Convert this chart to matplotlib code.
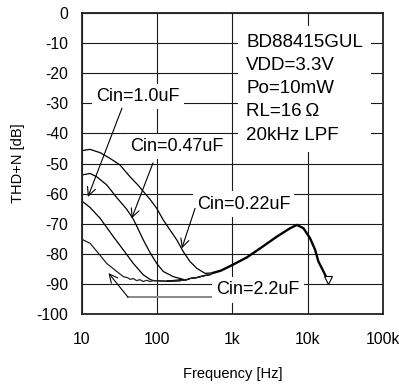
import numpy as np
import matplotlib
matplotlib.use("Agg")
import matplotlib.pyplot as plt

plt.rcParams['font.family'] = ['Liberation Sans', 'DejaVu Sans']
plt.rcParams['axes.unicode_minus'] = False

# --- data (frequency in Hz, THD+N in dB) ---
# Cin = 0.22uF (top curve), joins the shared tail directly
f_022 = [10, 12.8, 17.4, 23.6, 32, 43.5, 56.1, 65.3, 80.2, 98.4, 120.5, 148, 182, 222, 273, 335, 432]
db_022 = [-45.7, -45.3, -46.4, -48.3, -50.5, -54.4, -57.3, -59.3, -61.9, -64.9, -68.8, -72.1, -75.4, -79.3, -82.6, -84.8, -86.5]

# Cin = 0.47uF
f_047 = [10, 12.8, 15.7, 21.3, 28.9, 39.3, 48.1, 53.4, 65.3, 80.2, 98.4, 120.5, 164, 222]
db_047 = [-53.8, -53.3, -54.4, -57.1, -61.3, -65.2, -68.5, -70.8, -75.4, -79.6, -83.2, -85.9, -87.6, -88.5]

# Cin = 1.0uF
f_10 = [10, 12.8, 17.4, 26.1, 35.4, 48.1, 65.3, 80.2]
db_10 = [-62.5, -64.6, -68.2, -74.3, -78.7, -83.2, -87.0, -88.5]

# Cin = 2.2uF (noisy floor)
f_22 = [10, 12.8, 16.5, 21.3, 27.5, 35.4, 40, 44, 48.1, 53, 59, 65, 72.5, 80]
db_22 = [-75.2, -76.5, -79.8, -83.2, -85.4, -87.6, -87.9, -88.5, -88.2, -88.9, -88.6, -89.2, -88.8, -89.2]

# noise floor shared by 0.47 / 1.0 / 2.2uF
floor_f = [88.7, 109, 134, 164, 201, 247, 273, 335, 371, 432, 504]
floor_db = [-88.9, -89.0, -89.1, -89.0, -88.9, -88.6, -88.2, -87.9, -87.6, -87.2, -86.9]

# common high-frequency tail (all curves overlap)
tail_f = [557, 700, 997, 1549, 2328, 3881, 5834, 7165, 8770, 10760, 12540, 13870, 15410, 17030, 18500]
tail_db = [-86.3, -85.6, -83.7, -81.2, -78.2, -74.3, -71.5, -70.4, -71.5, -74.9, -78.7, -82.6, -84.8, -87.0, -88.7]

x_ticks = [10, 100, 1000, 10000, 100000]
x_labels = ["10", "100", "1k", "10k", "100k"]
y_ticks = list(range(0, -101, -10))
y_labels = [str(v) for v in y_ticks]

spec_text = "BD88415GUL\nVDD=3.3V\nPo=10mW\nRL=16\u2009\u03a9\n20kHz LPF"

fig = plt.figure(figsize=(3.99, 3.87), dpi=100)
ax = fig.add_axes([0.2055, 0.1886, 0.7544, 0.7778])

ax.set_xscale('log')
ax.set_xlim(10, 100000)
ax.set_ylim(-100, 0)
ax.set_xticks(x_ticks)
ax.set_xticklabels(x_labels)
ax.minorticks_off()
ax.set_yticks(y_ticks)
ax.set_yticklabels(y_labels)
ax.tick_params(length=0, labelsize=11.3)
ax.tick_params(axis='x', pad=13)
ax.tick_params(axis='y', pad=10)
ax.grid(True, color='#1a1a1a', lw=0.8)
ax.set_axisbelow(True)
for s in ax.spines.values():
    s.set_linewidth(1.3)
    s.set_color('#222222')

ax.set_xlabel("Frequency [Hz]", fontsize=10.5, labelpad=14)
ax.set_ylabel("THD+N [dB]", fontsize=10.5, labelpad=8)

# curves
lw = 0.9
ax.plot(f_022 + tail_f[:1], db_022 + tail_db[:1], color='black', lw=lw)
ax.plot(f_047 + floor_f[2:] + tail_f[:1], db_047 + floor_db[2:] + tail_db[:1], color='black', lw=lw)
ax.plot(f_10 + floor_f + tail_f[:1], db_10 + floor_db + tail_db[:1], color='black', lw=lw)
ax.plot(f_22 + floor_f + tail_f[:1], db_22 + floor_db + tail_db[:1], color='#222222', lw=lw)
ax.plot(tail_f, tail_db, color='black', lw=1.7)
ax.plot(tail_f[-1:], tail_db[-1:], marker='v', ms=6, mfc='white', mec='black', mew=0.8, ls='none')

# labels with white boxes that hide the grid
box = dict(facecolor='white', edgecolor='none', pad=3)
ax.text(1517, -7.0, spec_text, fontsize=13.5, va='top', ha='left', linespacing=1.47,
        bbox=dict(facecolor='white', edgecolor='none', pad=6), zorder=3)
ax.text(15.35, -27.8, "Cin=1.0uF", fontsize=13, va='center', ha='left', bbox=box, zorder=3)
ax.text(43.5, -44.4, "Cin=0.47uF", fontsize=13, va='center', ha='left', bbox=box, zorder=3)
ax.text(335, -63.5, "Cin=0.22uF", fontsize=13, va='center', ha='left', bbox=box, zorder=3)
ax.text(605, -92.0, "Cin=2.2uF", fontsize=13, va='center', ha='left', bbox=box, zorder=3)

arrow = dict(arrowstyle='->', lw=0.8, color='black', shrinkA=0, shrinkB=0, mutation_scale=15)
ax.annotate("", xy=(12.0, -61.1), xytext=(34.0, -31.6), arrowprops=arrow, zorder=4)
ax.annotate("", xy=(45.8, -68.2), xytext=(87.9, -49.8), arrowprops=arrow, zorder=4)
ax.annotate("", xy=(212, -78.2), xytext=(318, -64.9), arrowprops=arrow, zorder=4)
ax.annotate("", xy=(22.5, -86.4), xytext=(40.9, -94.4), arrowprops=arrow, zorder=4)
ax.plot([40.9, 560], [-94.4, -94.4], color='#8a8a8a', lw=1.4, zorder=2)

fig.savefig("out.png", dpi=100)
